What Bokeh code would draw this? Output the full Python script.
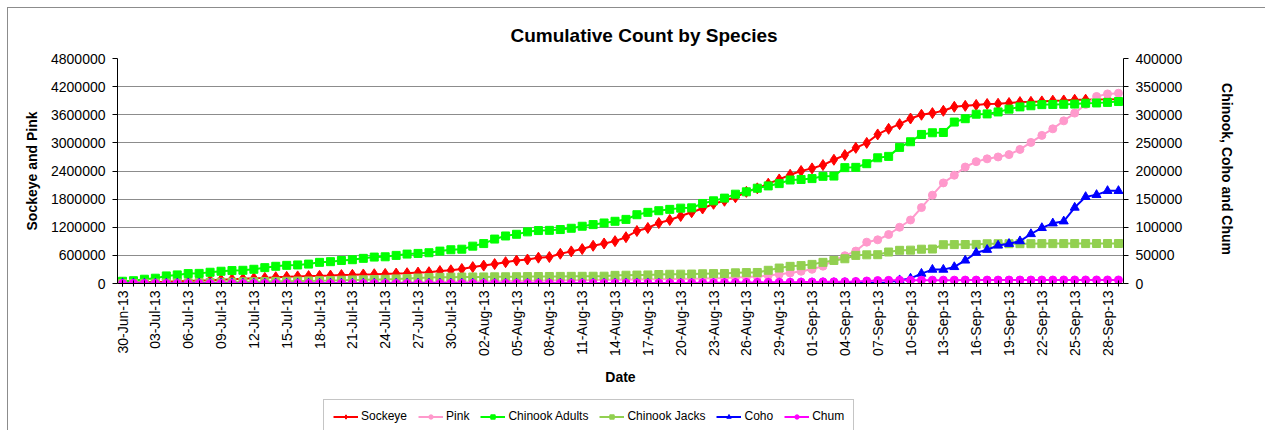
import math
import pandas as pd
from bokeh.plotting import figure
from bokeh.layouts import column
from bokeh.models import (Range1d, LinearAxis, FixedTicker, NumeralTickFormatter,
                          Legend, LegendItem)
from bokeh.embed import file_html
from bokeh.resources import INLINE

# Daily cumulative counts, 30 Jun 2013 - 29 Sep 2013
dates = pd.date_range("2013-06-30", "2013-09-29", freq="D")
date_labels = [d.strftime("%d-%b-%y") for d in dates]
day = list(range(len(dates)))

# left axis series
sockeye = [15000, 20000, 26000, 33000, 40000, 48000, 55000, 62000, 70000, 80000,
           92000, 102000, 113000, 120000, 135000, 142000, 152000, 158000, 163000, 169000,
           180000, 186000, 193000, 198000, 205000, 212000, 220000, 233000, 242000, 265000,
           282000, 310000, 350000, 382000, 415000, 455000, 490000, 512000, 551000, 565000,
           635000, 685000, 735000, 805000, 854000, 904000, 988000, 1120000, 1185000, 1290000,
           1355000, 1440000, 1520000, 1600000, 1700000, 1765000, 1840000, 1955000, 2030000, 2130000,
           2220000, 2320000, 2400000, 2456000, 2527000, 2640000, 2740000, 2894000, 3000000, 3180000,
           3300000, 3400000, 3520000, 3600000, 3635000, 3685000, 3770000, 3790000, 3810000, 3830000,
           3835000, 3850000, 3870000, 3875000, 3885000, 3900000, 3905000, 3920000, 3922000, 3925000,
           3928000, 3930000]
pink = [0, 0, 0, 0, 0, 0, 0, 0, 0, 0,
        150, 400, 900, 1300, 1700, 2600, 3400, 4700, 5900, 7600,
        9200, 10800, 13100, 15200, 17300, 20100, 22800, 26300, 28900, 31700,
        35400, 37800, 41200, 43600, 47500, 50200, 52800, 56300, 58700, 62400,
        64800, 68300, 70900, 74200, 77600, 79800, 83400, 85900, 89300, 91800,
        95600, 98200, 102400, 106800, 113500, 119700, 128300, 136800, 150200, 170400,
        195000, 225000, 261000, 303000, 370000, 494000, 593000, 692000, 882000, 932000,
        1045000, 1200000, 1355000, 1620000, 1885000, 2146000, 2310000, 2485000, 2600000, 2660000,
        2700000, 2750000, 2860000, 3010000, 3160000, 3300000, 3470000, 3635000, 3820000, 3990000,
        4045000, 4060000]

# right axis series
chinook_adults = [4000, 5000, 7600, 9400, 13500, 15300, 17600, 18000, 20000, 21800,
                  23000, 23500, 25300, 28200, 30600, 32300, 33000, 34500, 37600, 38800,
                  41000, 42300, 44700, 47000, 47500, 50000, 52300, 53500, 54700, 57600,
                  60000, 61000, 66400, 71000, 79000, 84500, 87500, 91800, 94100, 94500,
                  95900, 98200, 101800, 104700, 107600, 110600, 114000, 122300, 126500, 129400,
                  131800, 134000, 134500, 142300, 147000, 151800, 158800, 163000, 169400, 173500,
                  177600, 184000, 185000, 186500, 190500, 191000, 206000, 206500, 213000, 223500,
                  226000, 242000, 252000, 265000, 268000, 268500, 287000, 293000, 301000, 301500,
                  305000, 310000, 314000, 316000, 318000, 318300, 318600, 319000, 320500, 321000,
                  322000, 323500]
chinook_jacks = [0, 200, 400, 700, 900, 1100, 1300, 1700, 1900, 2300,
                 2500, 2900, 3100, 3400, 3800, 4000, 4400, 4600, 5100, 5400,
                 5800, 6300, 6600, 7100, 7500, 8100, 8800, 9700, 10500, 11000,
                 11300, 11500, 11600, 11700, 11900, 12000, 12100, 12300, 12400, 12500,
                 12600, 12700, 12800, 12900, 13000, 14500, 14700, 15000, 15200, 16000,
                 16400, 16600, 16800, 17300, 17600, 17800, 19000, 19400, 19600, 23500,
                 27500, 30500, 31800, 34000, 37600, 41000, 44000, 50000, 51000, 51200,
                 56000, 59000, 59300, 61000, 61300, 69000, 69200, 69300, 69500, 70600,
                 70700, 70700, 70800, 70800, 70900, 70900, 71000, 71000, 71000, 71100,
                 71100, 71100]
coho = [0] * 40 + [0, 0, 0, 0, 0, 100, 100, 100, 200, 200,
                   200, 300, 300, 300, 400, 400, 500, 500, 600, 600,
                   700, 700, 800, 800, 900, 900, 1000, 1100, 1200, 1400,
                   2000, 6000, 9000, 17600, 24700, 24700, 29400, 41000, 54700, 60000,
                   67600, 70600, 75300, 88000, 98800, 107000, 110600, 135000, 154000, 157600,
                   164700, 164700]
chum = [0] * 30 + [100, 100, 100, 200, 200, 200, 300, 300, 300, 400,
                   400, 400, 500, 500, 500, 600, 600, 700, 700, 800,
                   900, 1000, 1100, 1200, 1300, 1500, 1600, 1800, 1900, 2100,
                   2300, 2400, 2500, 2700, 2900, 3000, 3200, 3600, 4500, 5200,
                   5600, 5800, 5900, 5900, 6000, 6000, 6000, 6100, 6100, 6100,
                   6100, 6200, 6200, 6200, 6200, 6200, 6300, 6300, 6300, 6300,
                   6300, 6300]

left_ticks = [0, 600000, 1200000, 1800000, 2400000, 3000000, 3600000, 4200000, 4800000]
right_ticks = [0, 50000, 100000, 150000, 200000, 250000, 300000, 350000, 400000]

FONT = "Liberation Sans"

p = figure(width=1257, height=387,
           x_range=Range1d(-0.46, 91.46), y_range=Range1d(0, 4800000),
           output_backend="svg", toolbar_location=None,
           min_border_left=109, min_border_right=142,
           min_border_top=50, min_border_bottom=112,
           title="Cumulative Count by Species")
p.outline_line_color = None
p.background_fill_color = "white"
p.border_fill_color = "white"

p.title.text_font = FONT
p.title.text_font_size = "19px"
p.title.text_font_style = "bold"
p.title.text_color = "black"
p.title.align = "left"
p.title.offset = 393
p.title.standoff = 26

p.extra_y_ranges = {"right": Range1d(0, 400000)}

# x axis: a label every third day, a tick every day
xa = p.xaxis[0]
xa.ticker = FixedTicker(ticks=day[::3], minor_ticks=day)
xa.major_label_overrides = {i: date_labels[i] for i in day[::3]}
xa.major_label_orientation = math.pi / 2
xa.axis_label = "Date"
xa.major_tick_in = 3
xa.major_tick_out = 3
xa.minor_tick_in = 3
xa.minor_tick_out = 3
xa.major_label_standoff = 4
xa.axis_label_standoff = 10

ya = p.yaxis[0]
ya.ticker = FixedTicker(ticks=left_ticks)
ya.formatter = NumeralTickFormatter(format="0")
ya.axis_label = "Sockeye and Pink"
ya.major_tick_in = 0
ya.major_tick_out = 5
ya.minor_tick_out = 0
ya.minor_tick_in = 0
ya.major_label_standoff = 7
ya.axis_label_standoff = 8

ra = LinearAxis(y_range_name="right", axis_label="Chinook,  Coho and Chum",
                ticker=FixedTicker(ticks=right_ticks),
                formatter=NumeralTickFormatter(format="0"))
ra.major_tick_in = 0
ra.major_tick_out = 5
ra.minor_tick_in = 0
ra.minor_tick_out = 0
ra.major_label_standoff = 7
ra.axis_label_standoff = 34
p.add_layout(ra, "right")

for ax in (xa, ya, ra):
    ax.axis_line_color = "black"
    ax.major_tick_line_color = "black"
    ax.minor_tick_line_color = "black"
    ax.major_label_text_font = FONT
    ax.major_label_text_font_size = "14px"
    ax.major_label_text_color = "black"
    ax.axis_label_text_font = FONT
    ax.axis_label_text_font_size = "14px"
    ax.axis_label_text_font_style = "bold"
    ax.axis_label_text_color = "black"

p.xgrid.grid_line_color = None
p.ygrid.grid_line_color = "#8c8c8c"
p.ygrid.grid_line_width = 1

series = [
    ("Sockeye", sockeye, "default", "#FF0000", "diamond", 11),
    ("Pink", pink, "default", "#FF99CC", "circle", 8),
    ("Chinook Adults", chinook_adults, "right", "#00FF00", "square", 8),
    ("Chinook Jacks", chinook_jacks, "right", "#92D050", "square", 8),
    ("Coho", coho, "right", "#0000FF", "triangle", 9),
    ("Chum", chum, "right", "#FF00FF", "circle", 8),
]

# legend strip under the chart; its keys reuse each series' styling
lf = figure(width=1257, height=35, x_range=Range1d(0, 1), y_range=Range1d(0, 1),
            output_backend="svg", toolbar_location=None,
            x_axis_location=None, y_axis_location=None, min_border=0)
lf.grid.visible = False
lf.outline_line_color = None
lf.background_fill_color = "white"
lf.border_fill_color = "white"

items = []
for name, vals, rng, color, marker, size in series:
    p.line(day, vals, y_range_name=rng, line_color=color, line_width=2)
    p.scatter(day, vals, y_range_name=rng, marker=marker, size=size,
              fill_color=color, line_color=color)
    kl = lf.line([-5, -4], [-5, -4], line_color=color, line_width=2)
    ks = lf.scatter([-5], [-5], marker=marker, size=size,
                    fill_color=color, line_color=color)
    items.append(LegendItem(label=name, renderers=[kl, ks]))

legend = Legend(items=items, orientation="horizontal", location=(206, -3))
legend.label_text_font = FONT
legend.label_text_font_size = "12px"
legend.label_text_color = "black"
legend.glyph_width = 25
legend.glyph_height = 11
legend.label_standoff = 3
legend.spacing = 11
legend.padding = 9
legend.margin = 0
legend.border_line_color = "#8c8c8c"
legend.border_line_width = 1
legend.background_fill_color = "white"
legend.background_fill_alpha = 1
lf.add_layout(legend, "center")

page = column(p, lf, spacing=0)
page.styles = {"margin-left": "7px", "margin-top": "7px",
               "border-left": "1px solid #8c8c8c", "border-top": "1px solid #8c8c8c"}

open("out.html", "w").write(file_html(page, INLINE))
